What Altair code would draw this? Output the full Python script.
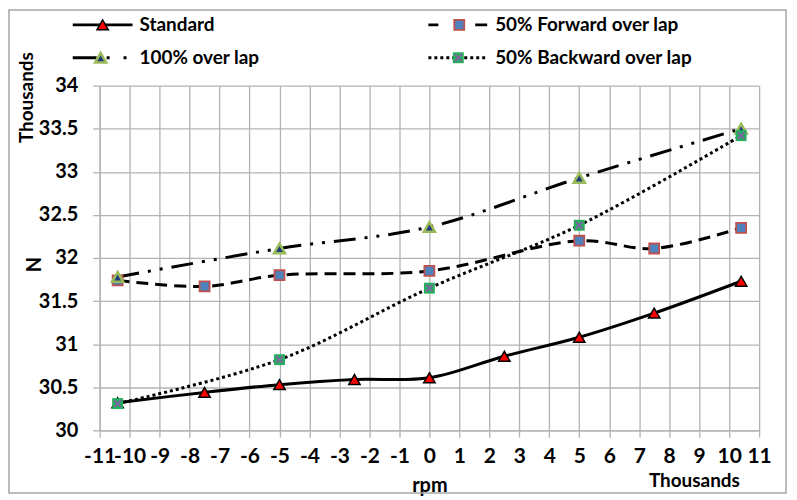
import altair as alt
import pandas as pd

# ---- data (thousands) ----
series_names = ["Standard", "50% Forward over lap", "100% over lap", "50% Backward over lap"]

x_std = [-10.4, -7.5, -5, -2.5, 0, 2.5, 5, 7.5, 10.4]
y_std = [30.32, 30.44, 30.53, 30.59, 30.61, 30.86, 31.08, 31.36, 31.73]

x_fwd = [-10.4, -7.5, -5, 0, 5, 7.5, 10.4]
y_fwd = [31.74, 31.67, 31.80, 31.85, 32.20, 32.11, 32.35]

x_full = [-10.4, -5, 0, 5, 10.4]
y_full = [31.78, 32.11, 32.36, 32.93, 33.50]

x_bwd = [-10.4, -5, 0, 5, 10.4]
y_bwd = [30.31, 30.82, 31.65, 32.38, 33.42]

x_ticks = list(range(-11, 12))
y_ticks = [30, 30.5, 31, 31.5, 32, 32.5, 33, 33.5, 34]

FONT = "Lato"
GRID = "#b3b3b3"
W, H = 662, 346

df_std = pd.DataFrame({"x": x_std, "y": y_std})
df_fwd = pd.DataFrame({"x": x_fwd, "y": y_fwd})
df_full = pd.DataFrame({"x": x_full, "y": y_full})
df_bwd = pd.DataFrame({"x": x_bwd, "y": y_bwd})

X = alt.X("x:Q",
          scale=alt.Scale(domain=[-11, 11], nice=False, zero=False),
          axis=alt.Axis(values=x_ticks, labelExpr="'' + datum.value", title="rpm",
                        titleY=55, titleBaseline="middle", labelFlush=False,
                        labelOverlap=False, labelPadding=8, tickCount=100,
                        labelFontSize=21))
Y = alt.Y("y:Q",
          scale=alt.Scale(domain=[30, 34], nice=False, zero=False),
          axis=alt.Axis(values=y_ticks, labelExpr="'' + datum.value", title="N",
                        titleX=-65, titleY=179, titleAlign="center",
                        titleBaseline="middle", labelPadding=15,
                        labelOverlap=False, labelFlush=False, tickCount=100))

def line(df, dash):
    kw = dict(color="black", strokeWidth=3, interpolate="catmull-rom")
    if dash:
        kw["strokeDash"] = dash
    return alt.Chart(df).mark_line(**kw).encode(x=X, y=Y)

X_PATH = "M-1,-1L1,1M-1,1L1,-1"

line_std = line(df_std, None)
line_fwd = line(df_fwd, [12, 7])
line_full = line(df_full, [22, 9, 3, 9, 3, 9])
line_bwd = line(df_bwd, [3, 3])

pts_std = alt.Chart(df_std).mark_point(shape="triangle-up", filled=True, fill="#ff0000",
                                       stroke="black", strokeWidth=1.5, size=130,
                                       opacity=1).encode(x=X, y=Y)
pts_fwd = alt.Chart(df_fwd).mark_point(shape="square", filled=True, fill="#4f81bd",
                                       stroke="#c0504d", strokeWidth=1.8, size=100,
                                       opacity=1).encode(x=X, y=Y)
pts_full = alt.Chart(df_full).mark_point(shape="triangle-up", filled=True, fill="#1f3a80",
                                         stroke="#9bbb59", strokeWidth=2.5, size=125,
                                         opacity=1).encode(x=X, y=Y)
pts_bwd = alt.Chart(df_bwd).mark_point(shape="square", filled=True, fill="#22b05a",
                                       size=120, opacity=1).encode(x=X, y=Y)
pts_bwd_x = alt.Chart(df_bwd).mark_point(shape=X_PATH, filled=False, stroke="#8064a2",
                                         strokeWidth=2, size=48,
                                         opacity=1).encode(x=X, y=Y)

# ---- legend (drawn manually, two columns) ----
one = alt.Data(values=[{}])

def lg_rule(x1, x2, y, dash=None):
    kw = dict(color="black", strokeWidth=3)
    if dash:
        kw["strokeDash"] = dash
    return alt.Chart(one).mark_rule(**kw).encode(
        x=alt.value(x1), x2=alt.value(x2), y=alt.value(y))

def lg_text(x, y, s):
    return alt.Chart(one).mark_text(align="left", baseline="middle", font=FONT,
                                    fontSize=19, fontWeight="bold", color="black").encode(
        x=alt.value(x), y=alt.value(y), text=alt.value(s))

def lg_pt(x, y, **kw):
    return alt.Chart(one).mark_point(opacity=1, **kw).encode(x=alt.value(x), y=alt.value(y))

r1, r2 = -61, -28
legend = [
    lg_rule(-27, 33, r1),
    lg_pt(3, r1, shape="triangle-up", filled=True, fill="#ff0000", stroke="black",
          strokeWidth=1.5, size=130),
    lg_text(40, r1, series_names[0]),

    lg_rule(330, 389, r1, [10, 37, 12]),
    lg_pt(361, r1, shape="square", filled=True, fill="#4f81bd", stroke="#c0504d",
          strokeWidth=1.8, size=100),
    lg_text(397, r1, series_names[1]),

    lg_rule(-27, 30, r2, [24, 10, 3, 14, 3, 10]),
    lg_pt(1, r2, shape="triangle-up", filled=True, fill="#1f3a80", stroke="#9bbb59",
          strokeWidth=2.5, size=125),
    lg_text(40, r2, series_names[2]),

    lg_rule(330, 388, r2, [3, 3]),
    lg_pt(360, r2, shape="square", filled=True, fill="#22b05a", size=120),
    lg_pt(360, r2, shape=X_PATH, filled=False, stroke="#8064a2", strokeWidth=2, size=48),
    lg_text(397, r2, series_names[3]),
]

# display-unit labels
thousands_y = alt.Chart(one).mark_text(angle=270, align="center", baseline="middle",
                                       font=FONT, fontSize=19, fontWeight="bold",
                                       color="black").encode(
    x=alt.value(-73), y=alt.value(12), text=alt.value("Thousands"))
thousands_x = alt.Chart(one).mark_text(align="center", baseline="middle", font=FONT,
                                       fontSize=19, fontWeight="bold",
                                       color="black").encode(
    x=alt.value(597), y=alt.value(397), text=alt.value("Thousands"))

frame = alt.Chart(one).mark_rect(fill="white", fillOpacity=0, stroke="#a6a6a6",
                                 strokeWidth=1.5).encode(
    x=alt.value(-91), x2=alt.value(689), y=alt.value(-76), y2=alt.value(409))

chart = alt.layer(
    frame,
    line_std, line_fwd, line_full, line_bwd,
    pts_std, pts_fwd, pts_full, pts_bwd, pts_bwd_x,
    *legend, thousands_y, thousands_x,
).properties(
    width=W, height=H,
    autosize=alt.AutoSizeParams(type="none"),
    padding={"left": 92, "top": 77, "right": 30, "bottom": 66},
    background="white",
).configure_view(stroke=None).configure_axis(
    labelFont=FONT, labelFontSize=20, labelFontWeight="bold", labelColor="black",
    titleFont=FONT, titleFontSize=20, titleFontWeight="bold", titleColor="black",
    gridColor=GRID, gridWidth=1.3, gridOpacity=1,
    domainColor=GRID, domainWidth=1.3, tickColor=GRID, tickWidth=1.3, tickSize=7,
)

chart.save("out.html", embed_options={"renderer": "svg", "actions": False})
